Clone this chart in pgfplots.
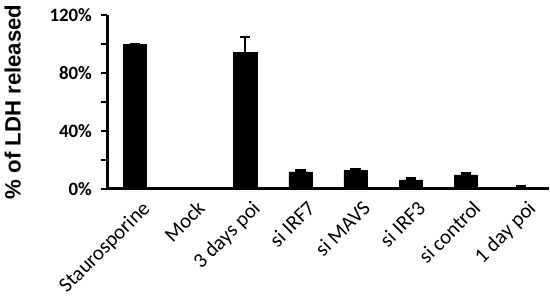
\documentclass[border=0pt]{standalone}
\usepackage{pgfplots}
\pgfplotsset{compat=1.18}
\usepackage{fontspec}
\setmainfont{Carlito}
\newfontfamily\arialfont{Liberation Sans}
\begin{document}
\begin{tikzpicture}
\begin{axis}[
  scale only axis,
  width=328pt, height=129pt,
  xmin=-0.5, xmax=7.5,
  ymin=0, ymax=120,
  axis x line=bottom, axis y line=left,
  axis line style={-, line width=2.2pt},
  xtick={0,...,7},
  xticklabels={Staurosporine,Mock,3 days poi,si IRF7,si MAVS,si IRF3,si control,1 day poi},
  x tick label style={rotate=45, anchor=north east, font=\fontsize{15.5}{17}\selectfont, inner sep=1pt, yshift=-4pt, xshift=2pt},
  xtick style={draw=none},
  ytick={0,20,...,120},
  yticklabels={0\%,,40\%,,80\%,,120\%},
  y tick label style={font=\fontsize{14}{16}\selectfont\bfseries, xshift=-3pt},
  ytick style={line width=1.6pt, black},
  tick align=outside,
  major tick length=5pt,
  /pgf/number format/assume math mode=true,
  ylabel={\arialfont\bfseries \% of LDH released},
  ylabel style={font=\fontsize{16.5}{18}\selectfont, at={(axis description cs:-0.215,0.5)}, anchor=center, rotate=0},
  ybar, bar width=17.25pt,
]
\addplot[fill=black, draw=black,
  error bars/.cd, y dir=plus, y explicit,
  error bar style={line width=1.5pt, black},
  error mark options={rotate=90, mark size=3.8pt, line width=1.6pt, black}]
coordinates {
(0,100) +- (0,0)
(1,0) +- (0,0)
(2,94) +- (0,11)
(3,11.5) +- (0,1)
(4,12.5) +- (0,1)
(5,6) +- (0,1)
(6,9.5) +- (0,1)
(7,1) +- (0,1)
};
\end{axis}
\end{tikzpicture}
\end{document}
